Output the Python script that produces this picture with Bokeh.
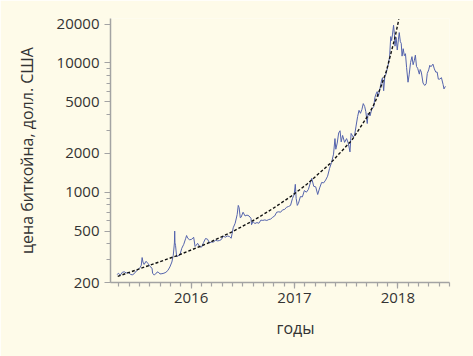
import pandas as pd
from bokeh.plotting import figure
from bokeh.models import Range1d, FixedTicker, Title
from bokeh.embed import file_html
from bokeh.resources import INLINE

# --- data ---
dates = [
    "2015-04-15", "2015-04-19", "2015-04-26", "2015-05-03", "2015-05-10", "2015-05-17", "2015-05-24",
    "2015-05-31", "2015-06-07", "2015-06-14", "2015-06-21", "2015-06-28", "2015-07-05", "2015-07-09",
    "2015-07-12", "2015-07-15", "2015-07-19", "2015-07-26", "2015-08-02", "2015-08-09", "2015-08-16",
    "2015-08-18", "2015-08-24", "2015-08-30", "2015-09-06", "2015-09-13", "2015-09-20", "2015-09-27",
    "2015-10-04", "2015-10-11", "2015-10-18", "2015-10-25", "2015-10-30", "2015-11-03", "2015-11-04",
    "2015-11-05", "2015-11-07", "2015-11-11", "2015-11-15", "2015-11-22", "2015-11-29", "2015-12-06",
    "2015-12-13", "2015-12-16", "2015-12-20", "2015-12-27",
    "2016-01-03", "2016-01-10", "2016-01-15", "2016-01-18", "2016-01-24", "2016-01-31", "2016-02-07",
    "2016-02-14", "2016-02-21", "2016-02-28", "2016-03-06", "2016-03-13", "2016-03-20", "2016-03-27",
    "2016-04-03", "2016-04-10", "2016-04-17", "2016-04-24", "2016-05-01", "2016-05-08", "2016-05-15",
    "2016-05-22", "2016-05-29", "2016-06-05", "2016-06-12", "2016-06-16", "2016-06-19", "2016-06-23",
    "2016-06-26", "2016-07-03", "2016-07-10", "2016-07-17", "2016-07-24", "2016-07-31", "2016-08-02",
    "2016-08-07", "2016-08-14", "2016-08-21", "2016-08-28", "2016-09-04", "2016-09-11", "2016-09-18",
    "2016-09-25", "2016-10-02", "2016-10-09", "2016-10-16", "2016-10-23", "2016-10-30", "2016-11-06",
    "2016-11-13", "2016-11-20", "2016-11-27", "2016-12-04", "2016-12-11", "2016-12-18", "2016-12-25",
    "2016-12-31",
    "2017-01-04", "2017-01-07", "2017-01-11", "2017-01-15", "2017-01-22", "2017-01-29", "2017-02-05",
    "2017-02-12", "2017-02-19", "2017-02-26", "2017-03-03", "2017-03-10", "2017-03-17", "2017-03-24",
    "2017-03-31", "2017-04-07", "2017-04-14", "2017-04-21", "2017-04-28", "2017-05-05", "2017-05-12",
    "2017-05-19", "2017-05-24", "2017-05-27", "2017-06-01", "2017-06-06", "2017-06-11", "2017-06-15",
    "2017-06-20", "2017-06-27", "2017-07-04", "2017-07-10", "2017-07-16", "2017-07-20", "2017-07-27",
    "2017-08-01", "2017-08-06", "2017-08-12", "2017-08-17", "2017-08-22", "2017-08-27", "2017-09-01",
    "2017-09-06", "2017-09-10", "2017-09-15", "2017-09-18", "2017-09-25", "2017-10-01", "2017-10-08",
    "2017-10-12", "2017-10-16", "2017-10-20", "2017-10-24", "2017-10-29", "2017-11-05", "2017-11-08",
    "2017-11-12", "2017-11-16", "2017-11-20", "2017-11-26", "2017-11-29", "2017-12-03", "2017-12-07",
    "2017-12-10", "2017-12-13", "2017-12-17", "2017-12-20", "2017-12-22", "2017-12-26", "2017-12-30",
    "2018-01-03", "2018-01-06", "2018-01-10", "2018-01-13", "2018-01-16", "2018-01-20", "2018-01-24",
    "2018-01-28", "2018-02-01", "2018-02-06", "2018-02-10", "2018-02-15", "2018-02-20", "2018-02-24",
    "2018-02-28", "2018-03-04", "2018-03-08", "2018-03-12", "2018-03-18", "2018-03-21", "2018-03-25",
    "2018-03-31", "2018-04-06", "2018-04-11", "2018-04-15", "2018-04-20", "2018-04-24", "2018-04-28",
    "2018-05-05", "2018-05-10", "2018-05-15", "2018-05-20", "2018-05-24", "2018-05-29", "2018-06-04",
    "2018-06-10", "2018-06-13", "2018-06-18",
]
prices = [
    230, 236, 228, 240, 242, 237, 240,
    232, 229, 234, 245, 252, 262, 272,
    312, 288, 276, 292, 280, 266, 258,
    236, 228, 236, 242, 233, 234, 236,
    240, 248, 264, 288, 325, 405, 500,
    405, 388, 315, 322, 325, 368, 395,
    440, 462, 440, 428,
    432, 448, 380, 386, 402, 378, 376,
    407, 438, 433, 405, 412, 410, 425,
    420, 422, 430, 458, 448, 458, 455,
    440, 530, 575, 670, 790, 760, 635,
    640, 700, 655, 665, 655, 628, 560,
    592, 572, 582, 575, 608, 605, 610,
    604, 614, 620, 640, 655, 700, 705,
    700, 730, 735, 765, 775, 790, 895,
    960,
    1150, 895, 790, 820, 925, 920, 1030,
    1000, 1050, 1180, 1280, 1110, 1100, 960,
    1080, 1190, 1180, 1240, 1330, 1530, 1700,
    1970, 2600, 2150, 2400, 2870, 2990, 2450,
    2750, 2430, 2600, 2400, 2050, 2850, 2680,
    2730, 3200, 3850, 4300, 4080, 4350, 4850,
    4600, 4200, 3400, 4100, 3900, 4400, 4600,
    5400, 5750, 6000, 5500, 6200, 7400, 7700,
    6100, 7850, 8200, 9300, 9900, 11200, 16000,
    14900, 16500, 19600, 16600, 13500, 15800, 12600,
    15100, 17200, 14600, 14200, 11300, 12900, 11400,
    11800, 9200, 7100, 8100, 10100, 11200, 9700,
    10400, 11500, 9400, 9100, 8200, 8900, 8500,
    7000, 6700, 6900, 8300, 8850, 9600, 9350,
    9800, 9000, 8500, 8500, 7500, 7500, 7700,
    6800, 6300, 6600,
]
trend_t = [2015.29, 2015.60, 2015.87, 2016.15, 2016.39, 2016.615, 2016.80, 2016.97,
           2017.12, 2017.345, 2017.556, 2017.718, 2017.78, 2017.847, 2017.89, 2017.928,
           2017.97, 2018.01]
trend_v = [223, 272, 324, 399, 490, 612, 755, 933,
           1153, 1667, 2530, 3990, 4980, 6920, 8690, 11450,
           15450, 21800]

y_major = [200, 500, 1000, 2000, 5000, 10000, 20000]
y_labels = ["200", "500", "1000", "2000", "5000", "10000", "20000"]
y_minor = [200, 300, 400, 500, 600, 700, 800, 900,
           1000, 2000, 3000, 4000, 5000, 6000, 7000, 8000, 9000, 10000, 20000]
x_major = [2016, 2017, 2018]
x_labels = ["2016", "2017", "2018"]
x_minor = [round(2015.3 + 0.1 * i, 1) for i in range(33)]

# convert dates to decimal years
ts = pd.to_datetime(pd.Series(dates))
days_in_year = ts.dt.is_leap_year.map({True: 366, False: 365})
t_dec = (ts.dt.year + (ts.dt.dayofyear - 1) / days_in_year).tolist()

BG = "#fefbe9"
FONT = "Open Sans"
TXT = "#333333"
AX = "#a3a3a3"

p = figure(width=473, height=356, output_backend="svg", toolbar_location=None,
           y_axis_type="log",
           x_range=Range1d(2015.22, 2018.5), y_range=Range1d(200, 22100),
           min_border_left=110, min_border_right=24, min_border_top=18, min_border_bottom=74)
p.background_fill_color = BG
p.border_fill_color = BG
p.outline_line_color = None
p.xgrid.visible = False
p.ygrid.visible = False

p.line(t_dec, prices, line_color="#5564ad", line_width=1)
p.line(trend_t, trend_v, line_color="#111111", line_width=1.4, line_dash="3 2")

for ax in (p.xaxis[0], p.yaxis[0]):
    ax.axis_line_color = AX
    ax.axis_line_width = 1.5
    ax.major_tick_line_color = AX
    ax.minor_tick_line_color = AX
    ax.major_tick_line_width = 1.2
    ax.minor_tick_line_width = 1.2
    ax.major_tick_in = 0
    ax.minor_tick_in = 0
    ax.major_tick_out = 6
    ax.minor_tick_out = 4
    ax.major_label_text_font = FONT
    ax.major_label_text_font_size = "15px"
    ax.major_label_text_color = TXT

p.yaxis[0].ticker = FixedTicker(ticks=y_major, minor_ticks=y_minor)
p.yaxis[0].major_label_overrides = {v: s for v, s in zip(y_major, y_labels)}
p.yaxis[0].major_label_standoff = 5
p.yaxis[0].axis_label = "цена биткойна, долл. США"
p.yaxis[0].axis_label_text_font = FONT
p.yaxis[0].axis_label_text_font_size = "16px"
p.yaxis[0].axis_label_text_font_style = "normal"
p.yaxis[0].axis_label_text_color = TXT
p.yaxis[0].axis_label_standoff = 16

p.xaxis[0].ticker = FixedTicker(ticks=x_major, minor_ticks=x_minor)
p.xaxis[0].major_label_overrides = {v: s for v, s in zip(x_major, x_labels)}
p.xaxis[0].major_label_standoff = 4

xlab = Title(text="годы", align="left", offset=166, standoff=19,
             text_font=FONT, text_font_size="16px", text_font_style="normal",
             text_color=TXT)
p.add_layout(xlab, "below")

open("out.html", "w").write(file_html(p, INLINE))
